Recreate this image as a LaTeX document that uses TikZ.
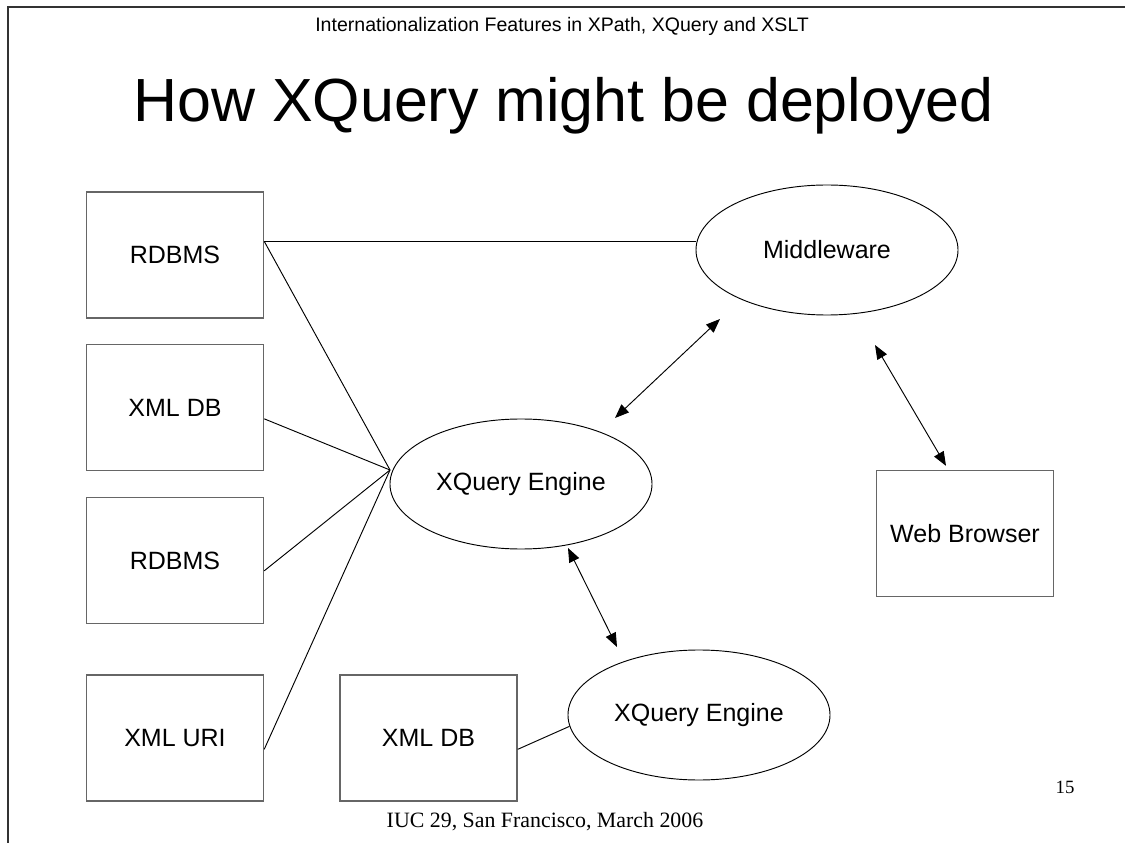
\documentclass[tikz,border=0pt]{standalone}
\usepackage{fontspec}
\setmainfont{Liberation Sans}
\newfontfamily\footfont{Liberation Serif}
\usepackage{tikz}
\usetikzlibrary{shapes.geometric}
\usetikzlibrary{arrows.meta}
\usetikzlibrary{calc}
\tikzstyle{box}=[draw=black!60,line width=0.9pt,minimum width=113.3pt,minimum height=80.6pt,inner sep=0pt,font=\fontsize{16}{18}\selectfont]
\tikzstyle{engine}=[ellipse,draw,line width=0.6pt,minimum width=167.7pt,minimum height=83.2pt,inner sep=0pt,font=\fontsize{16}{18}\selectfont]
\tikzstyle{link} = [draw,line width=0.6pt]
\tikzstyle{twoway} = [draw,line width=0.6pt,{Triangle[length=9pt,width=7pt]}-{Triangle[length=9pt,width=7pt]}]

\begin{document}
\begin{tikzpicture}[x=0.64pt, y=-0.64pt]

    \useasboundingbox (0,0) rectangle (1125,843);
    \draw[line width=1.3pt, black!80] (1125,7) -- (8,7) -- (8,843);

    \node[font=\fontsize{12.5}{14}\selectfont, anchor=base west, inner sep=0pt] (header) at (315,32) {Internationalization Features in XPath, XQuery and XSLT};
    \node[font=\fontsize{39}{46}\selectfont, anchor=base west, inner sep=0pt] (title) at (133,122) {How XQuery might be deployed};

    \foreach \name/\cy/\label in { rdbmsA/255/RDBMS, xmldbA/407.5/XML DB, rdbmsB/560.5/RDBMS, xmluri/738/XML URI }
        \node[box] (\name) at (175,\cy) {\label};

    \node[box] (xmldbB) at (428.5,738) {XML DB};
    \node[box] (browser) at (965,533.5) {Web Browser};

    \node[engine] (middleware) at (827,250) {Middleware};
    \node[engine] (engineA) at (521,484) {XQuery Engine};
    \node[engine] (engineB) at (699,715) {XQuery Engine};
    \coordinate (hub) at (390,470);

    \coordinate (tap) at ($(rdbmsA.north east)+(0,50)$);
    \path[link] (tap) -- (tap -| middleware.west);

    \foreach \name/\dy in { rdbmsA/50, xmldbA/75, rdbmsB/74, xmluri/75 }
        \path[link] ($(\name.north east)+(0,\dy)$) -- (hub);

    \path[link] ($(xmldbB.north east)+(0,75)$) -- (engineB.185);

    \path[twoway] ($(engineA)+(94,-66)$) -- ($(middleware)+(-107,69)$);
    \path[twoway] ($(middleware)+(48,95)$) -- ($(browser.north)+(-19,-4)$);
    \path[twoway] ($(engineA)+(47,64)$) -- ($(engineB)+(-82,-68)$);

    \node[font=\footfont\fontsize{14}{16}\selectfont, anchor=base] (footer) at (545,827) {IUC 29, San Francisco, March 2006};
    \node[font=\footfont\fontsize{12}{14}\selectfont, anchor=base] (page) at (1065,793) {15};

\end{tikzpicture}
\end{document}
